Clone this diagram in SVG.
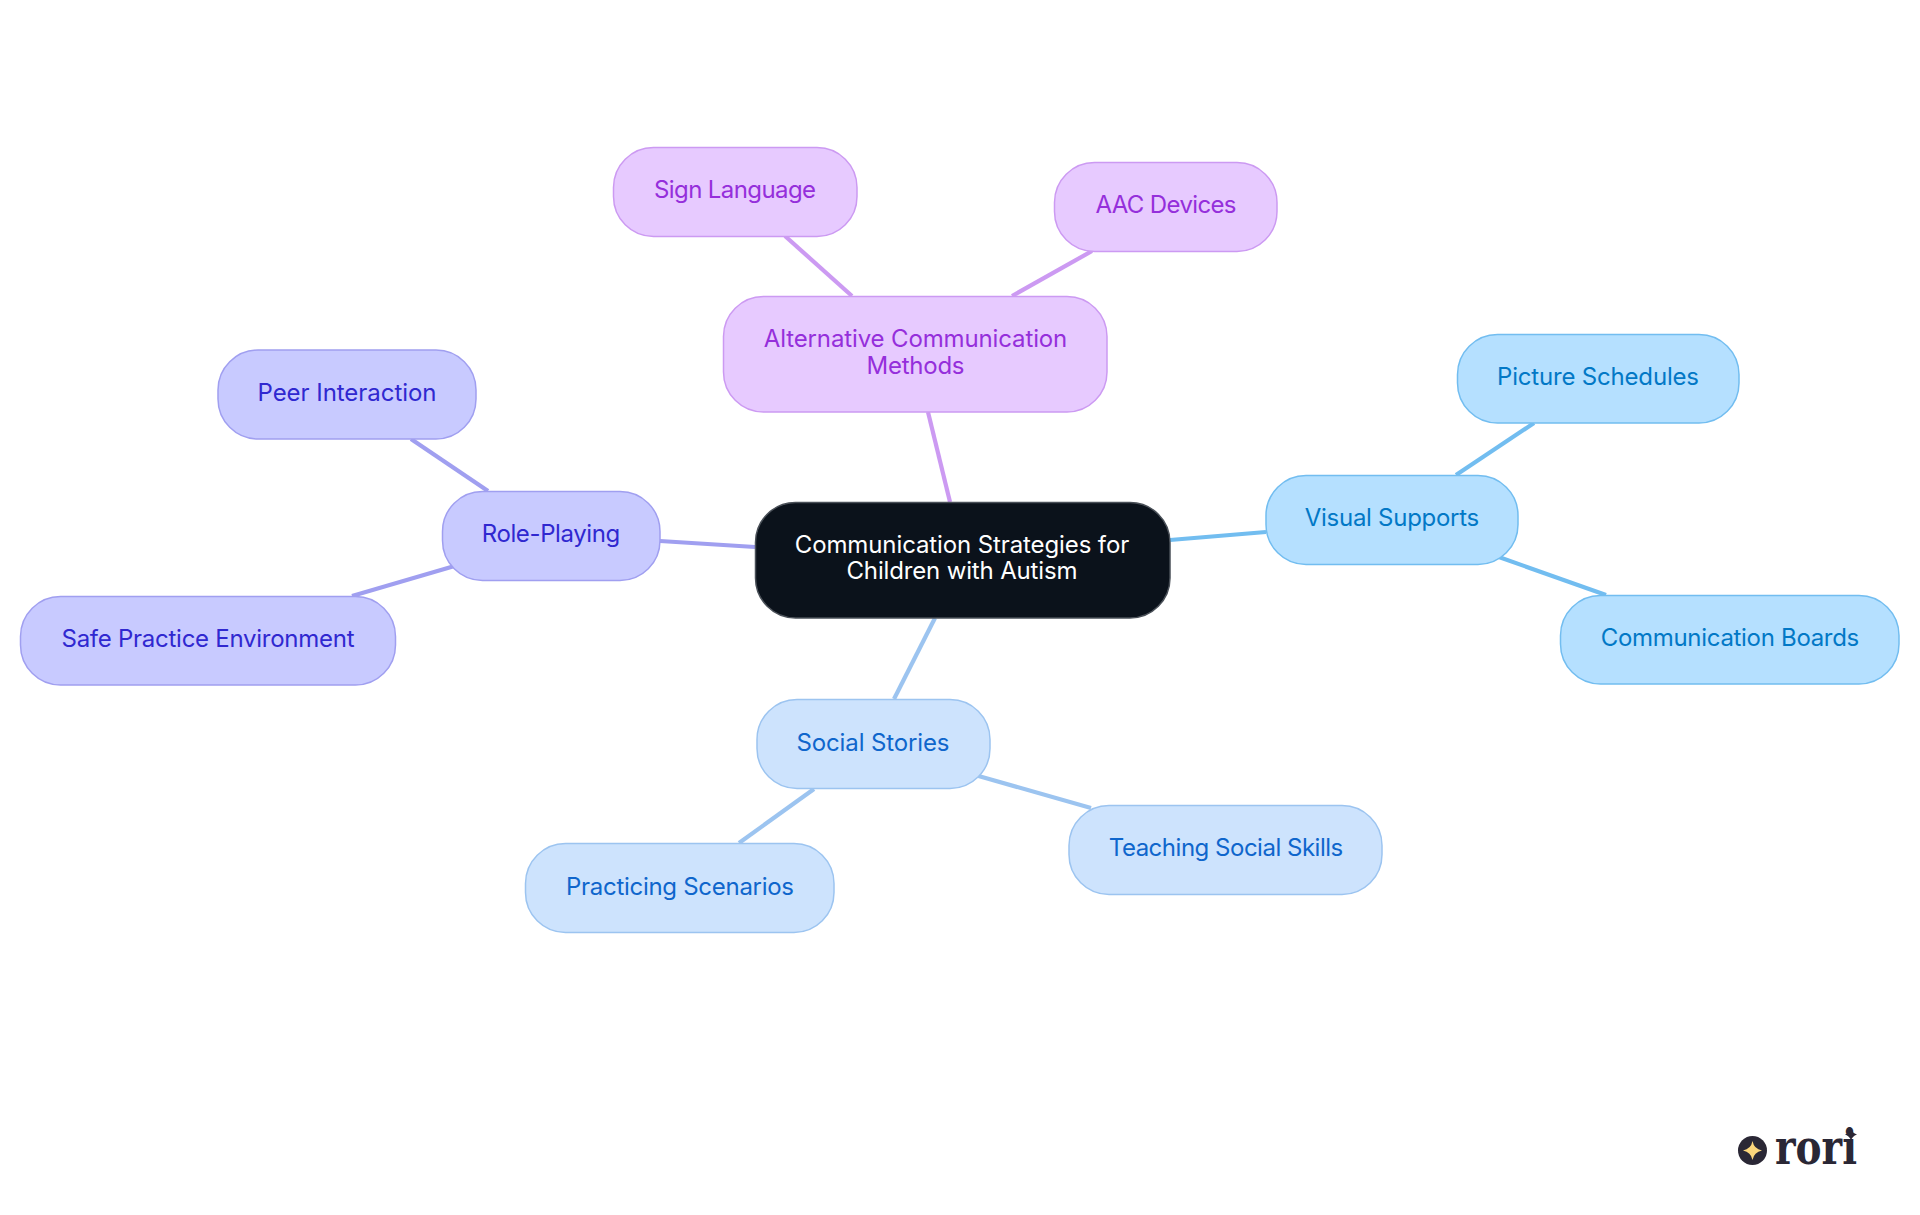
<svg xmlns="http://www.w3.org/2000/svg" width="1920" height="1215" viewBox="0 0 1920 1215">
<style>
text{font-family:"Inter","Noto Sans","Liberation Sans",sans-serif;font-size:24px;text-anchor:middle}
.e{fill:none;stroke-width:4.2}
.n{stroke-width:1.5}
.pu{fill:#e7caff;stroke:#cc9af2}.pu~text{fill:#952fdb}
.in{fill:#c8caff;stroke:#a09ff0}.in~text{fill:#3028d0}
.bl{fill:#cde3fd;stroke:#9cc4f0}.bl~text{fill:#0f66cc}
.sk{fill:#b5e0ff;stroke:#72bdf0}.sk~text{fill:#0278c6}
</style>
<rect width="1920" height="1215" fill="#fff"/>
<g id="connectors">
<g class="e" stroke="#cc9af2"><path d="M928 412L950 502"/><path d="M785 236L852 296"/><path d="M1092 251L1012 296"/></g>
<g class="e" stroke="#a09ff0"><path d="M660 541L755 547"/><path d="M411 439L488 491"/><path d="M352 596L458 565"/></g>
<g class="e" stroke="#9cc4f0"><path d="M935 618L894 699"/><path d="M814 789L739 843"/><path d="M975 775L1091 808"/></g>
<g class="e" stroke="#72bdf0"><path d="M1170 540L1266 532"/><path d="M1534 423L1456 475"/><path d="M1496 556L1606 595"/></g>
</g>
<g id="root"><rect x="755.500" y="502.500" width="414.500" height="115.500" rx="40" fill="#0b121b" stroke="#4a5058" stroke-width="1.500"/><text x="962" y="553" fill="#fff" textLength="334.500">Communication Strategies for</text><text x="962" y="579" fill="#fff" textLength="231">Children with Autism</text></g>
<g id="alt"><rect class="n pu" x="723.500" y="296.500" width="383.500" height="115.500" rx="40"/><text x="915.500" y="347" textLength="303.500">Alternative Communication</text><text x="915.500" y="374" textLength="98">Methods</text></g>
<g id="sign"><rect class="n pu" x="613.500" y="147.500" width="243.500" height="89" rx="40"/><text x="735" y="198" textLength="162">Sign Language</text></g>
<g id="aac"><rect class="n pu" x="1054.500" y="162.500" width="222.500" height="89" rx="40"/><text x="1166" y="213" textLength="141">AAC Devices</text></g>
<g id="role"><rect class="n in" x="442.500" y="491.500" width="217.500" height="89" rx="40"/><text x="551" y="542" textLength="138.500">Role-Playing</text></g>
<g id="peer"><rect class="n in" x="218" y="350" width="258" height="89" rx="40"/><text x="347" y="401" textLength="179">Peer Interaction</text></g>
<g id="safe"><rect class="n in" x="20.500" y="596.500" width="375" height="88.500" rx="40"/><text x="208" y="647" textLength="293">Safe Practice Environment</text></g>
<g id="social"><rect class="n bl" x="757" y="699.500" width="233" height="89" rx="40"/><text x="873" y="751" textLength="153">Social Stories</text></g>
<g id="practicing"><rect class="n bl" x="525.500" y="843.500" width="308.500" height="89" rx="40"/><text x="680" y="895" textLength="228">Practicing Scenarios</text></g>
<g id="teaching"><rect class="n bl" x="1069" y="805.500" width="313" height="89" rx="40"/><text x="1226" y="856" textLength="234.500">Teaching Social Skills</text></g>
<g id="visual"><rect class="n sk" x="1266" y="475.500" width="252" height="89" rx="40"/><text x="1392" y="526" textLength="174.500">Visual Supports</text></g>
<g id="picture"><rect class="n sk" x="1457.500" y="334.500" width="281.500" height="88.500" rx="40"/><text x="1598" y="385" textLength="202">Picture Schedules</text></g>
<g id="boards"><rect class="n sk" x="1560.500" y="595.500" width="338.500" height="88.500" rx="40"/><text x="1730" y="646" textLength="258.500">Communication Boards</text></g>
<g id="logo">
<circle cx="1752.500" cy="1150.500" r="14.500" fill="#2a2735"/>
<path d="M1752.500 1141Q1754 1149 1762 1150.500Q1754 1152 1752.500 1160Q1751 1152 1743 1150.500Q1751 1149 1752.500 1141Z" fill="#fbd67c"/>
<text x="1816" y="1164" style="font-family:'DejaVu Serif',serif;font-weight:700;font-size:48px" textLength="82" lengthAdjust="spacingAndGlyphs" fill="#2a2735">rori</text>
<path d="M1851 1128Q1852 1133 1857 1134.500Q1852 1136 1851 1141Q1850 1136 1845 1134.500Q1850 1133 1851 1128Z" fill="#2a2735"/>
</g>
</svg>
